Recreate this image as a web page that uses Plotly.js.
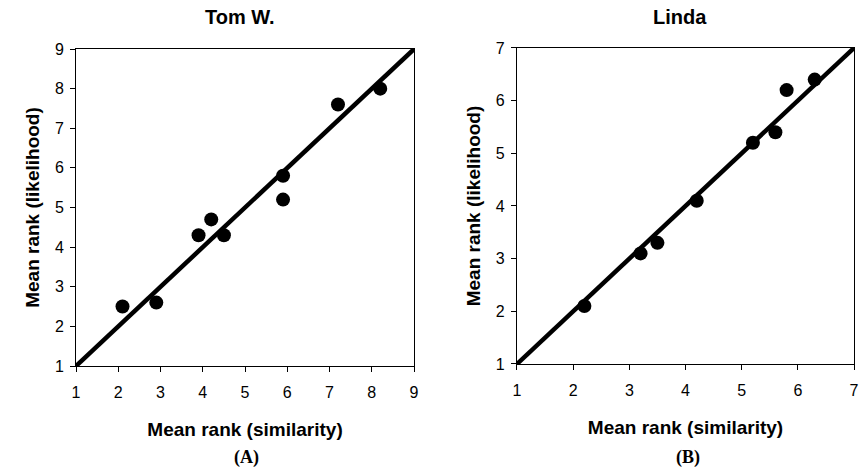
<!DOCTYPE html>
<html>
<head>
<meta charset="utf-8">
<script src="https://cdn.plot.ly/plotly-3.0.1.min.js"></script>
<style>html,body{margin:0;padding:0;background:#fff;}#chart{width:868px;height:469px;}</style>
</head>
<body>
<div id="chart"></div>
<script>
// Tom W. panel
const tomSimilarity = [2.1, 2.9, 3.9, 4.2, 4.5, 5.9, 5.9, 7.2, 8.2];
const tomLikelihood = [2.5, 2.6, 4.3, 4.7, 4.3, 5.8, 5.2, 7.6, 8.0];
const tomLine = [1, 9];
const tomTicks = [1, 2, 3, 4, 5, 6, 7, 8, 9];
// Linda panel
const lindaSimilarity = [2.2, 3.2, 3.5, 4.2, 5.2, 5.6, 5.8, 6.3];
const lindaLikelihood = [2.1, 3.1, 3.3, 4.1, 5.2, 5.4, 6.2, 6.4];
const lindaLine = [1, 7];
const lindaTicks = [1, 2, 3, 4, 5, 6, 7];

const FONT = 'Liberation Sans, Arial, sans-serif';
const markerStyle = {color: '#000', size: 14};

const traces = [
  {x: tomLine, y: tomLine, mode: 'lines', line: {color: '#000', width: 4.5}, xaxis: 'x', yaxis: 'y', cliponaxis: false, hoverinfo: 'skip'},
  {x: tomSimilarity, y: tomLikelihood, mode: 'markers', marker: markerStyle, xaxis: 'x', yaxis: 'y', cliponaxis: false},
  {x: lindaLine, y: lindaLine, mode: 'lines', line: {color: '#000', width: 4.5}, xaxis: 'x2', yaxis: 'y2', cliponaxis: false, hoverinfo: 'skip'},
  {x: lindaSimilarity, y: lindaLikelihood, mode: 'markers', marker: markerStyle, xaxis: 'x2', yaxis: 'y2', cliponaxis: false}
];

function axis(ticks, domain, anchor, titleText, standoff, labelOff) {
  return {
    domain: domain, anchor: anchor,
    range: [ticks[0], ticks[ticks.length - 1]],
    tickvals: ticks, ticktext: ticks.map(String),
    showgrid: false, zeroline: false,
    showline: true, mirror: true, linecolor: '#000', linewidth: 1,
    ticks: 'outside', ticklen: 5, tickcolor: '#000', tickwidth: 1,
    ticklabelstandoff: labelOff,
    tickfont: {family: FONT, size: 16, color: '#000'},
    title: {text: titleText, font: {family: FONT, size: 19, color: '#000', weight: 'bold'}, standoff: standoff},
    fixedrange: true
  };
}

const layout = {
  width: 868, height: 469,
  margin: {l: 0, r: 0, t: 0, b: 0},
  paper_bgcolor: '#fff', plot_bgcolor: '#fff',
  showlegend: false,
  xaxis: axis(tomTicks, [0.0876, 0.477], 'y', 'Mean rank (similarity)', 22, 7),
  yaxis: axis(tomTicks, [0.2196, 0.8955], 'x', 'Mean rank (likelihood)', 10, 3),
  xaxis2: axis(lindaTicks, [0.5956, 0.9839], 'y2', 'Mean rank (similarity)', 22, 7),
  yaxis2: axis(lindaTicks, [0.2239, 0.8977], 'x2', 'Mean rank (likelihood)', 10, 3),
  annotations: [
    {text: '<b>Tom W.</b>', xref: 'paper', yref: 'paper', x: 240/868, y: 1 - 17/469, xanchor: 'center', yanchor: 'middle', showarrow: false, font: {family: FONT, size: 20, color: '#000'}},
    {text: '<b>Linda</b>', xref: 'paper', yref: 'paper', x: 680/868, y: 1 - 17/469, xanchor: 'center', yanchor: 'middle', showarrow: false, font: {family: FONT, size: 20, color: '#000'}},
    {text: '<b>(A)</b>', xref: 'paper', yref: 'paper', x: 246/868, y: 1 - 457/469, xanchor: 'center', yanchor: 'middle', showarrow: false, font: {family: 'Liberation Serif, Times New Roman, serif', size: 18, color: '#000'}},
    {text: '<b>(B)</b>', xref: 'paper', yref: 'paper', x: 688/868, y: 1 - 457/469, xanchor: 'center', yanchor: 'middle', showarrow: false, font: {family: 'Liberation Serif, Times New Roman, serif', size: 18, color: '#000'}}
  ]
};

Plotly.newPlot('chart', traces, layout, {displayModeBar: false, staticPlot: true});
</script>
</body>
</html>
